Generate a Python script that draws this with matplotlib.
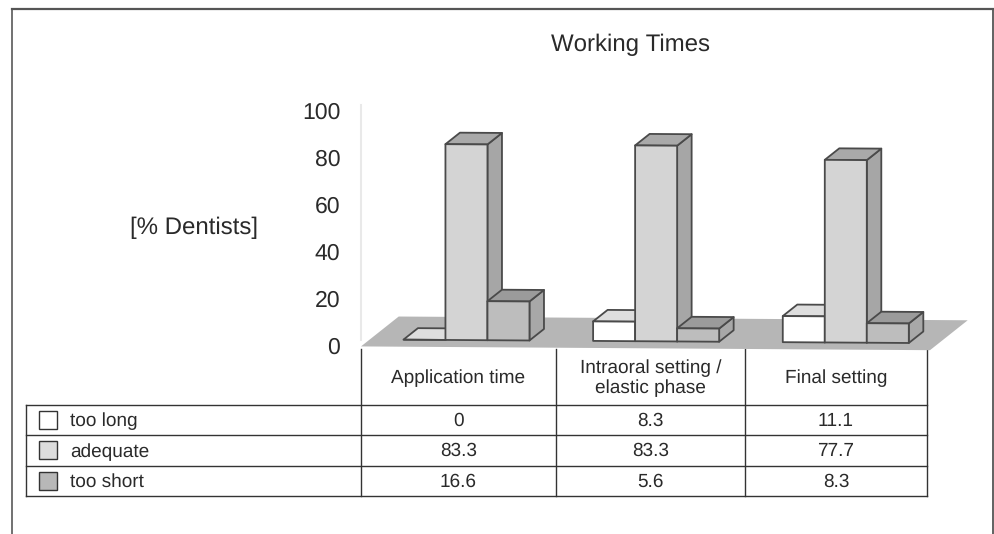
import matplotlib
matplotlib.use("Agg")
import matplotlib.pyplot as plt
from matplotlib.patches import Polygon, Rectangle
from matplotlib.transforms import ScaledTranslation

plt.rcParams['font.family'] = ['Liberation Sans', 'DejaVu Sans']
plt.rcParams['text.hinting'] = 'none'
plt.rcParams['text.hinting_factor'] = 1

categories = ["Application time", "Intraoral setting /\nelastic phase", "Final setting"]
series_names = ["too long", "adequate", "too short"]
too_long = [0, 8.3, 11.1]
adequate = [83.3, 83.3, 77.7]
too_short = [16.6, 5.6, 8.3]
y_ticks = [0, 20, 40, 60, 80, 100]
title = "Working Times"
y_label = "[% Dentists]"

W, H = 994, 534
DPI = 100
TEXT = "#2a2a2a"
EDGE = "#4a4a4a"
FLOOR = "#b6b6b6"
# front, top, side colours of each series
COLORS = [("#ffffff", "#dedede", "#c8c8c8"),
          ("#d4d4d4", "#a9a9a9", "#a6a6a6"),
          ("#bdbdbd", "#9b9b9b", "#a8a8a8")]
SWATCH = ["#ffffff", "#dcdcdc", "#b8b8b8"]

# fake 3d: one depth step in px, and the small tilt of the baseline
PX_X = 189.67
PX_Y = 2.35
DEPTH_X = 14.5 / PX_X
DEPTH_Y = 11.5 / PX_Y
TILT = 1.25 / PX_Y
BAR_W = 0.2215
SHIFT = 0.056


def project(x, y, d=0):
    return (x + d * DEPTH_X, y + d * DEPTH_Y - TILT * x)


def draw_bar(ax, x, w, h, colors):
    front, top, side = colors
    pts_front = [project(x, 0), project(x + w, 0), project(x + w, h), project(x, h)]
    pts_top = [project(x, h), project(x + w, h), project(x + w, h, 1), project(x, h, 1)]
    pts_side = [project(x + w, 0), project(x + w, 0, 1), project(x + w, h, 1), project(x + w, h)]
    for pts, c in [(pts_side, side), (pts_top, top), (pts_front, front)]:
        ax.add_patch(Polygon(pts, closed=True, facecolor=c, edgecolor=EDGE, lw=1.3,
                             joinstyle='round', clip_on=False, zorder=3))


fig = plt.figure(figsize=(W / DPI, H / DPI), dpi=DPI, facecolor="white")

# overlay in pixel coords for the frame and the data table
pg = fig.add_axes([0, 0, 1, 1])
pg.set_xlim(0, W)
pg.set_ylim(H, 0)
pg.axis("off")

pg.plot([12, 12], [H, 9], color="#666666", lw=1.3)
pg.plot([12, 993], [9, 9], color="#555555", lw=1.6)
pg.plot([993, 993], [9, H], color="#555555", lw=1.3)

columns = [361, 556, 745, 927]
rows = [405, 435, 465.5, 495.5]
for r in rows:
    pg.plot([26, columns[-1]], [r, r], color="#333333", lw=1.0)
pg.plot([26, 26], [rows[0], rows[-1]], color="#333333", lw=1.0)
for c in columns:
    pg.plot([c, c], [349, rows[-1]], color="#333333", lw=1.0)

pg.text(631, 45, title, ha="center", va="center", fontsize=17, color=TEXT)
pg.text(194, 227.5, y_label, ha="center", va="center", fontsize=17, color=TEXT)

table_values = [too_long, adequate, too_short]
for i, cat in enumerate(categories):
    cx = (columns[i] + columns[i + 1]) / 2
    pg.text(cx, 378, cat, ha="center", va="center", fontsize=13.5, color=TEXT, linespacing=1.2)
    for j, vals in enumerate(table_values):
        pg.text(cx, (rows[j] + rows[j + 1]) / 2 + 1, str(vals[i]), ha="center", va="center",
                fontsize=13.5, color=TEXT)
for j, name in enumerate(series_names):
    mid = (rows[j] + rows[j + 1]) / 2
    pg.add_patch(Rectangle((39, mid - 9), 18, 18, facecolor=SWATCH[j], edgecolor="#333333", lw=1.0))
    pg.text(70, mid + 1.5, name, ha="left", va="center", fontsize=13.5, color=TEXT)

# chart axes, value scale runs 0-100 on the left
left, right, base, top = 361, 361 + 3 * PX_X, 340, 340 - 100 * PX_Y
ax = fig.add_axes([left / W, (H - base) / H, (right - left) / W, (base - top) / H])
ax.patch.set_visible(False)
ax.set_xlim(-0.5, 2.5)
ax.set_ylim(0, 100)
ax.set_xticks([])
ax.set_yticks(y_ticks)
ax.tick_params(axis="y", length=0, pad=15, labelsize=16.5, labelcolor=TEXT)
for s in ["top", "right", "bottom"]:
    ax.spines[s].set_visible(False)
ax.spines["left"].set_color("#e9e9e9")
ax.spines["left"].set_linewidth(1.5)
offset = ScaledTranslation(0, -5 / DPI, fig.dpi_scale_trans)
for lab in ax.get_yticklabels():
    lab.set_transform(lab.get_transform() + offset)

# floor
floor_front = -3
floor_depth = 2.6
ax.add_patch(Polygon([project(-0.5, floor_front), project(2.5, floor_front),
                      project(2.5, floor_front, floor_depth), project(-0.5, floor_front, floor_depth)],
                     closed=True, facecolor=FLOOR, edgecolor="none", clip_on=False, zorder=2))

for i in range(len(categories)):
    for j, vals in enumerate(table_values):
        x = i + SHIFT + (j - 1.5) * BAR_W
        draw_bar(ax, x, BAR_W, vals[i], COLORS[j])

fig.savefig("out.png", dpi=DPI)
